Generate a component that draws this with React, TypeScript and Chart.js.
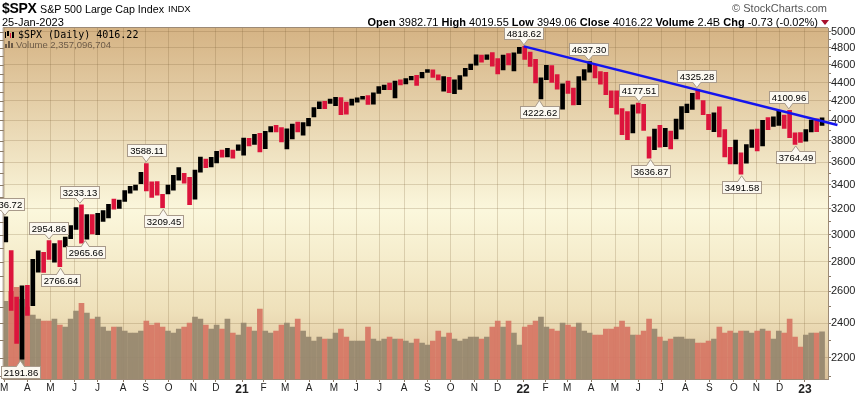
import React, { useEffect, useRef } from 'react';
import { Chart, registerables } from 'chart.js';

Chart.register(...registerables);

// ---------------- DATA ----------------
const START_DATE = '2020-03-02'; // first week (Monday) shown

// Weekly S&P 500 high / low / close, week 0 = week of 2 Mar 2020
const weekHigh = [
  3136.72, 2882, 2562, 2637, 2640, 2818, 2880, 2868, 2954.86, 2932, 2955, 2980, 3068,
  3211, 3233.13, 3155, 3155, 3165, 3186, 3238, 3280, 3272, 3352, 3387, 3399, 3509,
  3588.11, 3425, 3428, 3320, 3399, 3482, 3550, 3501, 3464, 3529, 3646, 3628, 3645,
  3699, 3712, 3727, 3712, 3760,
  3826, 3823, 3861, 3870, 3890, 3937, 3950, 3928, 3914, 3961, 3983, 3978, 4020,
  4130, 4191, 4195, 4219, 4238, 4237, 4188, 4219, 4234, 4249, 4257, 4287, 4356,
  4372, 4393, 4415, 4429, 4442, 4469, 4480, 4513, 4546, 4541, 4485, 4465, 4457,
  4429, 4476, 4560, 4608, 4718, 4715, 4718, 4743, 4672, 4713, 4731, 4741, 4808,
  4818.62, 4749, 4664, 4453, 4595, 4590, 4489, 4386, 4416, 4337, 4465, 4546, 4637.3,
  4593, 4521, 4513, 4308, 4307, 4119, 4090, 4158, 4177.51, 4164, 3838, 3913, 3951,
  3919, 3892, 4012, 4141, 4167, 4281, 4325.28, 4203, 4062, 4077, 4139, 3907, 3736,
  3806, 3685, 3762, 3905, 3912, 4001, 4028, 4034, 4100.51, 4052, 4100.96, 3875, 3878,
  3907, 4003, 4015, 4024,
];
const weekLow = [
  2945, 2478, 2280, 2191.86, 2447, 2508, 2729, 2727, 2817, 2798, 2766.64, 2908, 2969,
  3038, 2936, 2965.66, 3005, 2999, 3101, 3128, 3198, 3204, 3260, 3330, 3355, 3410,
  3349, 3293, 3313, 3209.45, 3324, 3354, 3441, 3415, 3234, 3280, 3511, 3550, 3558,
  3594, 3645, 3647, 3636, 3707,
  3663, 3749, 3764, 3694, 3725, 3885, 3885, 3789, 3723, 3818, 3885, 3853, 3944,
  4034, 4118, 4118, 4175, 4150, 4057, 4062, 4156, 4186, 4218, 4164, 4165, 4280,
  4321, 4320, 4233, 4372, 4385, 4429, 4367, 4451, 4513, 4457, 4427, 4306, 4288,
  4278, 4323, 4469, 4545, 4596, 4630, 4664, 4585, 4495, 4540, 4600, 4531, 4733,
  4662, 4582, 4395, 4222.62, 4431, 4401, 4327, 4115, 4279, 4157, 4161, 4425, 4517,
  4450, 4381, 4267, 4129, 4062, 3859, 3810, 3875, 4073, 3900, 3636.87, 3715, 3739,
  3743, 3721, 3818, 3911, 4079, 4112, 4218, 4057, 3907, 3886, 3837, 3647, 3584,
  3584, 3491.58, 3590, 3735, 3704, 3751, 3906, 3938, 3948, 3919, 3828, 3764.49, 3783,
  3795, 3885, 3886, 3949,
];
const weekClose = [
  2972, 2711, 2305, 2541, 2489, 2790, 2875, 2837, 2831, 2930, 2864, 2955, 3044,
  3194, 3041, 3098, 3009, 3130, 3185, 3224, 3216, 3271, 3351, 3372, 3397, 3508,
  3427, 3341, 3319, 3298, 3348, 3477, 3484, 3465, 3270, 3509, 3585, 3558, 3638,
  3699, 3663, 3709, 3703, 3756,
  3825, 3768, 3841, 3714, 3887, 3934, 3907, 3811, 3842, 3943, 3913, 3975, 4020,
  4129, 4185, 4180, 4181, 4233, 4174, 4156, 4204, 4230, 4247, 4166, 4281, 4352,
  4370, 4327, 4412, 4395, 4437, 4468, 4441, 4509, 4535, 4458, 4433, 4455, 4357,
  4391, 4471, 4545, 4605, 4697, 4683, 4698, 4595, 4538, 4712, 4620, 4725, 4766,
  4677, 4663, 4398, 4432, 4500, 4419, 4349, 4385, 4329, 4204, 4463, 4543, 4546,
  4488, 4392, 4272, 4132, 4123, 4023, 3901, 4158, 4109, 3901, 3675, 3912, 3825,
  3899, 3863, 3962, 4130, 4145, 4280, 4228, 4058, 3924, 4067, 3873, 3693, 3586,
  3640, 3583, 3753, 3901, 3771, 3993, 3965, 4026, 4072, 3934, 3852, 3845, 3840,
  3895, 3999, 3973, 4016.22,
];
// Average daily volume for each week, in billions of shares
const weekVolumeB = [
  3.9, 4.4, 4.6, 4.0, 3.6, 3.2, 3.0, 2.9, 2.9, 3.0, 2.7, 2.6, 3.0,
  3.4, 3.8, 3.3, 3.0, 3.1, 2.6, 2.4, 2.6, 2.6, 2.4, 2.3, 2.3, 2.4,
  2.9, 2.7, 2.8, 2.6, 2.4, 2.3, 2.5, 2.6, 2.8, 3.1, 3.0, 2.7, 2.5,
  2.7, 2.5, 3.0, 2.3, 2.2,
  2.8, 2.6, 2.4, 3.5, 2.4, 2.3, 2.4, 2.7, 2.8, 2.6, 3.0, 2.4, 2.1,
  1.9, 2.1, 2.0, 2.0, 2.3, 2.5, 2.1, 1.9, 1.9, 1.9, 2.6, 2.0, 1.9,
  2.0, 2.1, 2.0, 2.0, 1.9, 1.8, 2.0, 1.8, 1.7, 1.9, 2.4, 2.1, 2.3,
  2.0, 1.9, 2.0, 2.1, 2.1, 2.0, 2.1, 2.6, 2.9, 2.6, 2.9, 2.3, 1.7,
  2.6, 2.7, 2.9, 3.1, 2.6, 2.5, 2.4, 2.8, 2.7, 2.6, 2.8, 2.4, 2.3,
  2.2, 2.2, 2.5, 2.5, 2.6, 2.9, 2.6, 2.2, 2.2, 2.4, 3.0, 2.5, 2.1,
  1.9, 2.0, 2.1, 2.1, 2.0, 2.0, 1.8, 1.8, 1.9, 2.0, 2.6, 2.3, 2.4,
  2.3, 2.4, 2.4, 2.3, 2.4, 2.5, 2.4, 2.0, 2.4, 2.3, 3.0, 2.1, 1.6,
  2.2, 2.3, 2.3, 2.36,
];

// Month ticks on the time axis (first trading day of each month)
const monthTickDates = [
  '2020-03-02', '2020-04-01', '2020-05-01', '2020-06-01', '2020-07-01', '2020-08-03',
  '2020-09-01', '2020-10-01', '2020-11-02', '2020-12-01',
  '2021-01-04', '2021-02-01', '2021-03-01', '2021-04-01', '2021-05-03', '2021-06-01',
  '2021-07-01', '2021-08-02', '2021-09-01', '2021-10-01', '2021-11-01', '2021-12-01',
  '2022-01-03', '2022-02-01', '2022-03-01', '2022-04-01', '2022-05-02', '2022-06-01',
  '2022-07-01', '2022-08-01', '2022-09-01', '2022-10-03', '2022-11-01', '2022-12-01',
  '2023-01-03',
];
const monthTickLabels = [
  'M', 'A', 'M', 'J', 'J', 'A', 'S', 'O', 'N', 'D',
  '21', 'F', 'M', 'A', 'M', 'J', 'J', 'A', 'S', 'O', 'N', 'D',
  '22', 'F', 'M', 'A', 'M', 'J', 'J', 'A', 'S', 'O', 'N', 'D',
  '23',
];

// Price axis ticks (labelled) and the minor step
const priceTickLabels = [2200, 2400, 2600, 2800, 3000, 3200, 3400, 3600, 3800, 4000, 4200, 4400, 4600, 4800, 5000];
const priceMinorStep = 100;
const priceMin = 2085;
const priceMax = 5047;
const volumeAxisMaxB = 17.6;

// Labelled highs and lows
const markerDates = [
  '2020-03-03', '2020-03-23', '2020-04-29', '2020-05-14', '2020-06-08', '2020-06-15',
  '2020-09-02', '2020-09-24', '2022-01-04', '2022-01-24', '2022-03-29', '2022-06-02',
  '2022-06-17', '2022-08-16', '2022-10-13', '2022-12-13', '2022-12-22',
];
const markerValues = [
  3136.72, 2191.86, 2954.86, 2766.64, 3233.13, 2965.66, 3588.11, 3209.45, 4818.62,
  4222.62, 4637.3, 4177.51, 3636.87, 4325.28, 3491.58, 4100.96, 3764.49,
];
const markerSide = [
  'above', 'below', 'above', 'below', 'above', 'below', 'above', 'below', 'above',
  'below', 'above', 'above', 'below', 'above', 'below', 'above', 'below',
];

// Trend line (from the Jan-2022 high, drawn past the right edge)
const trendDates = ['2022-01-04', '2023-02-14'];
const trendValues = [4818.62, 3953];

// ---------------- HELPERS ----------------
const DAY = 86400000;
const toWeeks = (d: string) =>
  (Date.parse(d + 'T00:00:00Z') - Date.parse(START_DATE + 'T00:00:00Z')) / (7 * DAY);

const BLACK = '#000000';
const RED = '#dc143c';
const VOL_RED = 'rgba(214,118,100,0.93)';
const VOL_GREY = 'rgba(150,134,110,0.93)';
const GRID = 'rgba(120,90,50,0.22)';
const AXIS = '#9c8a76';
const FONT = '"Liberation Sans", Arial, sans-serif';

export default function App() {
  const canvasRef = useRef<HTMLCanvasElement | null>(null);

  useEffect(() => {
    const canvas = canvasRef.current;
    if (!canvas) return;

    const priceData = weekHigh.map((h, i) => ({ x: i + 0.3, y: [weekLow[i], h] }));
    const priceColors = weekClose.map((c, i) => (i === 0 || c >= weekClose[i - 1] ? BLACK : RED));
    const volData = weekVolumeB.map((v, i) => ({ x: i + 0.3, y: v }));
    const volColors = weekClose.map((c, i) => (i === 0 || c >= weekClose[i - 1] ? VOL_GREY : VOL_RED));
    const trendData = trendDates.map((d, i) => ({ x: toWeeks(d), y: trendValues[i] }));

    const minorTicks: number[] = [];
    for (let v = 2100; v <= 5000; v += priceMinorStep) minorTicks.push(v);
    const isLabelled = (v: number) => priceTickLabels.indexOf(v) >= 0;

    const bgPlugin = {
      id: 'bg',
      beforeDraw(chart: any) {
        const { ctx, chartArea: a } = chart;
        ctx.save();
        const g = ctx.createLinearGradient(0, a.top, 0, a.bottom);
        g.addColorStop(0, '#d5b384');
        g.addColorStop(0.52, '#fbf7dc');
        g.addColorStop(0.8, '#efe1bb');
        g.addColorStop(1, '#dac099');
        ctx.fillStyle = g;
        ctx.fillRect(a.left, a.top, a.right - a.left, a.bottom - a.top);
        ctx.restore();
      },
    };

    const overlayPlugin = {
      id: 'overlay',
      afterDatasetsDraw(chart: any) {
        const { ctx, chartArea: a, scales } = chart;
        const xs = scales.x;
        const ys = scales.y;
        ctx.save();

        // frame (top / left)
        ctx.strokeStyle = AXIS;
        ctx.lineWidth = 1;
        ctx.beginPath();
        ctx.moveTo(a.left - 0.5, a.bottom);
        ctx.lineTo(a.left - 0.5, a.top - 0.5);
        ctx.lineTo(a.right, a.top - 0.5);
        ctx.stroke();

        // left minor ticks
        ctx.strokeStyle = '#8a7a66';
        ctx.beginPath();
        minorTicks.forEach((v) => {
          const y = Math.round(ys.getPixelForValue(v)) + 0.5;
          ctx.moveTo(0, y);
          ctx.lineTo(a.left, y);
        });
        ctx.stroke();

        // legend
        ctx.fillStyle = '#000';
        ctx.fillRect(5, 32, 1, 6);
        ctx.fillRect(7, 31, 2, 5);
        ctx.fillStyle = RED;
        ctx.fillRect(10, 33, 1, 5);
        ctx.fillStyle = '#000';
        ctx.fillRect(12, 32, 2, 6);
        ctx.font = '10px "DejaVu Sans Mono", monospace';
        ctx.textBaseline = 'alphabetic';
        ctx.textAlign = 'left';
        ctx.fillText('$SPX (Daily) ' + weekClose[weekClose.length - 1].toFixed(2), 18, 38);
        ctx.fillStyle = '#6d5b48';
        ctx.fillRect(5, 44, 2, 4);
        ctx.fillRect(8, 41, 2, 7);
        ctx.fillRect(11, 43, 2, 5);
        ctx.font = '9.5px ' + FONT;
        ctx.fillText('Volume 2,357,096,704', 16, 48);

        // value markers
        ctx.font = '9.5px ' + FONT;
        markerDates.forEach((d, i) => {
          const x = xs.getPixelForValue(toWeeks(d));
          const y = ys.getPixelForValue(markerValues[i]);
          const text = markerValues[i].toFixed(2);
          const w = Math.round(ctx.measureText(text).width + 5);
          const h = 12;
          const above = markerSide[i] === 'above';
          const bx = Math.round(x - w / 2) + 0.5;
          const by = above ? Math.round(y - 7 - h) + 0.5 : Math.round(y + 7) + 0.5;
          ctx.fillStyle = '#fbf8f0';
          ctx.strokeStyle = '#a89a8a';
          ctx.beginPath();
          if (above) {
            ctx.moveTo(x - 4, by + h);
            ctx.lineTo(x, y - 1.5);
            ctx.lineTo(x + 4, by + h);
          } else {
            ctx.moveTo(x - 4, by);
            ctx.lineTo(x, y + 1.5);
            ctx.lineTo(x + 4, by);
          }
          ctx.closePath();
          ctx.fill();
          ctx.stroke();
          ctx.fillRect(bx, by, w, h);
          ctx.strokeRect(bx, by, w, h);
          ctx.fillStyle = '#fbf8f0';
          if (above) ctx.fillRect(x - 3.5, by + h - 1, 7, 1.5);
          else ctx.fillRect(x - 3.5, by - 0.5, 7, 1.5);
          ctx.fillStyle = '#000';
          ctx.textAlign = 'center';
          ctx.textBaseline = 'middle';
          ctx.fillText(text, bx + w / 2, by + h / 2 + 0.5);
        });
        ctx.restore();
      },
    };

    const chart = new Chart(canvas, {
      type: 'bar',
      data: {
        datasets: [
          {
            type: 'line',
            label: 'Trend',
            data: trendData,
            borderColor: '#1414ee',
            borderWidth: 2.5,
            pointRadius: 0,
            clip: false,
            xAxisID: 'x',
            yAxisID: 'y',
            order: 0,
          } as any,
          {
            type: 'bar',
            label: '$SPX',
            data: priceData,
            backgroundColor: priceColors,
            barThickness: 4,
            grouped: false,
            xAxisID: 'x',
            yAxisID: 'y',
            order: 1,
          } as any,
          {
            type: 'bar',
            label: 'Volume',
            data: volData,
            backgroundColor: volColors,
            barThickness: 5,
            grouped: false,
            xAxisID: 'x',
            yAxisID: 'yv',
            order: 2,
          } as any,
        ],
      },
      options: {
        animation: false,
        responsive: false,
        devicePixelRatio: 1,
        events: [],
        layout: { padding: { top: 28, left: 3, right: 0, bottom: 0 } },
        plugins: { legend: { display: false }, tooltip: { enabled: false }, title: { display: false } },
        scales: {
          x: {
            type: 'linear',
            position: 'bottom',
            min: -0.09,
            max: 152.4,
            offset: false,
            afterBuildTicks: (s: any) => {
              s.ticks = monthTickDates.map((d) => ({ value: toWeeks(d) }));
            },
            afterFit: (s: any) => {
              s.height = 15;
            },
            ticks: {
              autoSkip: false,
              maxRotation: 0,
              minRotation: 0,
              padding: 0,
              color: '#222',
              callback: (_v: any, i: number) => monthTickLabels[i],
              font: (ctx: any) => {
                const lbl = monthTickLabels[ctx.index] || '';
                return lbl.length === 2
                  ? { family: FONT, size: 12, weight: 'bold' }
                  : { family: FONT, size: 10, weight: 'normal' };
              },
            },
            grid: { color: GRID, tickLength: 3, tickColor: '#8a7a66', offset: false },
            border: { color: AXIS },
          } as any,
          y: {
            type: 'logarithmic',
            position: 'right',
            min: priceMin,
            max: priceMax,
            afterBuildTicks: (s: any) => {
              s.ticks = minorTicks.map((v) => ({ value: v }));
            },
            afterFit: (s: any) => {
              s.width = 28;
            },
            ticks: {
              autoSkip: false,
              padding: 0,
              color: '#222',
              font: { family: FONT, size: 11 },
              callback: (v: any) => (isLabelled(Number(v)) ? String(v) : ''),
            },
            grid: {
              color: (ctx: any) => (ctx.tick && isLabelled(ctx.tick.value) ? GRID : 'rgba(0,0,0,0)'),
              tickLength: 3,
              tickColor: '#8a7a66',
            },
            border: { color: AXIS },
          } as any,
          yv: {
            type: 'linear',
            display: false,
            min: 0,
            max: volumeAxisMaxB,
          },
        },
      },
      plugins: [bgPlugin, overlayPlugin],
    } as any);

    return () => chart.destroy();
  }, []);

  const abs = (o: React.CSSProperties): React.CSSProperties => ({ position: 'absolute', whiteSpace: 'pre', ...o });

  return (
    <div style={{ position: 'fixed', left: 0, top: 0, width: 856, height: 394, background: '#fff', fontFamily: FONT, color: '#000' }}>
      <canvas ref={canvasRef} width={856} height={394} style={{ position: 'absolute', left: 0, top: 0, width: 856, height: 394 }} />
      <div style={abs({ left: 2, top: 0, fontSize: 14, lineHeight: '16px', fontWeight: 'bold', letterSpacing: '-0.3px' })}>$SPX</div>
      <div style={abs({ left: 40, top: 3, fontSize: 10.7, lineHeight: '12px' })}>S&amp;P 500 Large Cap Index</div>
      <div style={abs({ left: 168, top: 4, fontSize: 9.5, lineHeight: '10px' })}>INDX</div>
      <div style={abs({ left: 2, top: 16, fontSize: 11, lineHeight: '12px' })}>25-Jan-2023</div>
      <div style={abs({ right: 29, top: 2, fontSize: 11, lineHeight: '12px', color: '#555' })}>© StockCharts.com</div>
      <div style={abs({ right: 38, top: 16, fontSize: 11, lineHeight: '12px' })}>
        <b>Open</b> 3982.71 <b>High</b> 4019.55 <b>Low</b> 3949.06 <b>Close</b> 4016.22 <b>Volume</b> 2.4B{' '}
        <b>Chg</b> -0.73 (-0.02%)
      </div>
      <div
        style={{
          position: 'absolute',
          left: 821,
          top: 20,
          width: 0,
          height: 0,
          borderLeft: '4px solid transparent',
          borderRight: '4px solid transparent',
          borderTop: '5px solid #a8102c',
        }}
      />
    </div>
  );
}
